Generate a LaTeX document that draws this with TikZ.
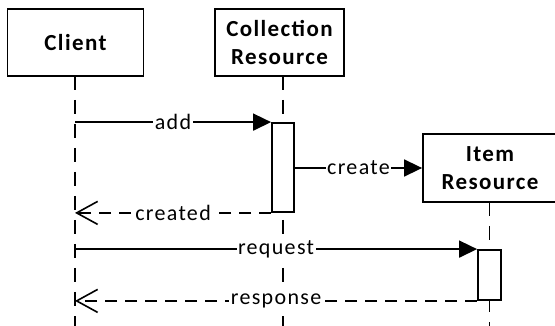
\documentclass[tikz,border=0pt]{standalone}
\usepackage{fontspec}
\setmainfont{Carlito}[LetterSpace=6]
\usetikzlibrary{arrows.meta}

\tikzset{
  lifebox/.style={draw, line width=1.8pt, fill=white, align=center, font=\bfseries\fontsize{23}{28}\selectfont, inner sep=0pt},
  actbox/.style={draw, line width=1.8pt, fill=white, inner sep=0pt},
  lifeline/.style={line width=1.8pt, dash pattern=on 14pt off 10pt},
  callmsg/.style={line width=1.6pt, -{Triangle[length=18pt,width=17pt]}},
  replymsg/.style={line width=1.6pt, dash pattern=on 12pt off 8pt, -{Straight Barb[length=21pt,width=23pt]}},
  msglabel/.style={fill=white, inner sep=1.5pt, font=\fontsize{22}{26}\selectfont},
}

\begin{document}
\begin{tikzpicture}[x=1pt, y=-1pt]
  \useasboundingbox (0,0) rectangle (555,326);

  % participants
  \node[lifebox, minimum width=136pt, minimum height=67pt] (client) at (75.5,42.5) {Client};
  \node[lifebox, minimum width=129pt, minimum height=67pt] (coll) at (279.5,42.5) {Collection\\Resource};

  % lifeline anchors
  \coordinate (clTop) at (75,76);
  \coordinate (clBot) at (75,326);
  \coordinate (coTop) at (283,76);
  \coordinate (coBot) at (283,326);
  \coordinate (itTop) at (489.5,202);
  \coordinate (itBot) at (489.5,326);

  \draw[lifeline] (clTop) -- (clBot);
  \draw[lifeline] (coTop) -- (coBot);
  \draw[lifeline] (itTop) -- (itBot);

  % activations
  \node[actbox, minimum width=22pt, minimum height=89pt] (act1) at (283,167.5) {};
  \node[actbox, minimum width=23pt, minimum height=50pt] (act2) at (489.5,275) {};

  % created participant
  \node[lifebox, minimum width=134pt, minimum height=68pt] (item) at (490,168) {Item\\Resource};

  % messages
  \draw[callmsg] (act1.north west -| clTop) -- node[msglabel] {add} (act1.north west);
  \draw[callmsg] (act1.east |- item.west) -- node[msglabel] {create} (item.west);
  \draw[replymsg] (act1.south west) -- node[msglabel] {created} (act1.south west -| clTop);
  \draw[callmsg] (act2.north west -| clTop) -- node[msglabel] {request} (act2.north west);
  \draw[replymsg] (act2.south west) -- node[msglabel] {response} (act2.south west -| clTop);
\end{tikzpicture}
\end{document}
